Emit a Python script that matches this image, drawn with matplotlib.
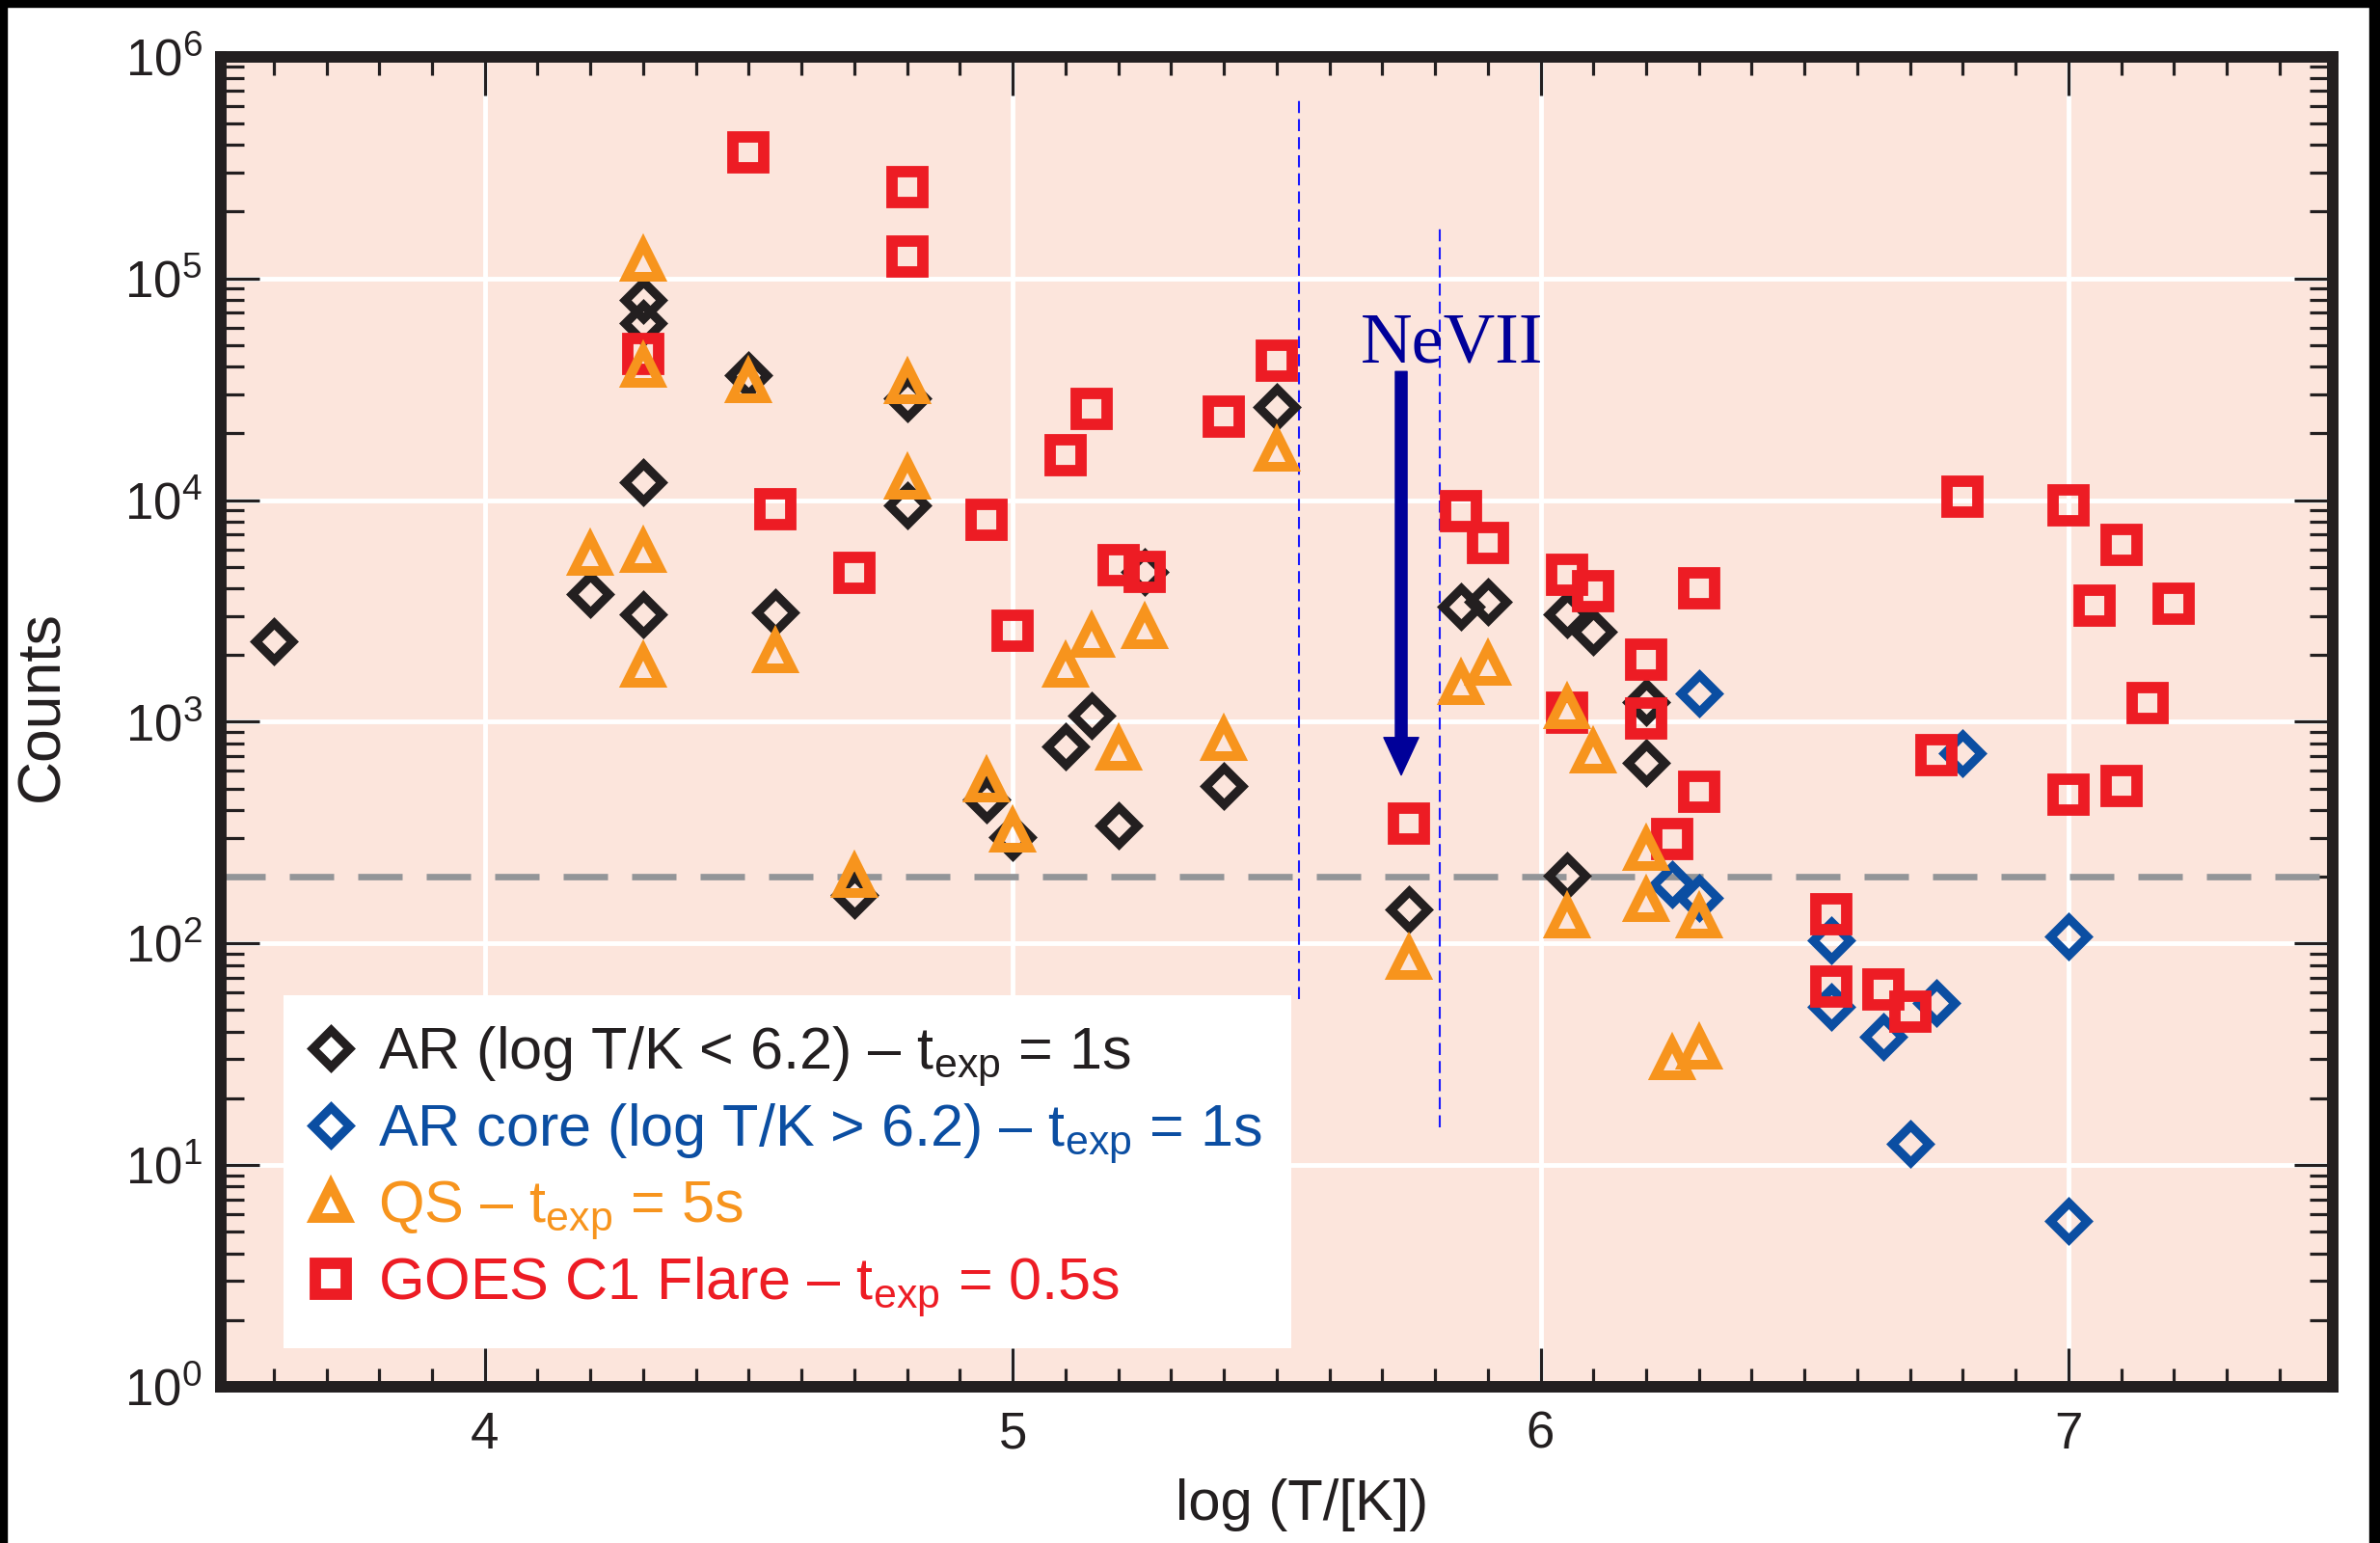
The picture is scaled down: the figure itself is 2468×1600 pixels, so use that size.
import numpy as np
import matplotlib.pyplot as plt
from matplotlib.ticker import MultipleLocator, LogLocator, NullFormatter
from matplotlib.patches import Rectangle

plt.rcParams['font.family'] = 'Liberation Sans'
plt.rcParams['mathtext.fontset'] = 'custom'
plt.rcParams['mathtext.rm'] = 'Liberation Sans'
plt.rcParams['mathtext.it'] = 'Liberation Sans:italic'
plt.rcParams['mathtext.bf'] = 'Liberation Sans:bold'

# AR (log T/K < 6.2), t_exp = 1s
ar_logt = [3.6, 4.2, 4.3, 4.3, 4.3, 4.3, 4.5, 4.55, 4.8, 4.8, 4.7, 4.95, 5.0, 5.1,
           5.15, 5.2, 5.25, 5.4, 5.5, 5.75, 5.85, 5.9, 6.05, 6.1, 6.2, 6.2, 6.05]
ar_counts = [2300, 3760, 80000, 63000, 12000, 3060, 36500, 3100, 28800, 9500, 166, 448, 301, 776,
             1065, 342, 4760, 515, 26200, 142, 3320, 3480, 3060, 2540, 1230, 653, 203]

# AR core (log T/K > 6.2), t_exp = 1s
core_logt = [6.3, 6.8, 6.25, 6.3, 6.55, 6.55, 6.65, 6.75, 6.7, 7.0, 7.0]
core_counts = [1340, 718, 185, 160, 103, 52, 38, 54, 12.5, 108, 5.6]

# QS, t_exp = 5s
qs_logt = [4.3, 4.3, 4.2, 4.3, 4.3, 4.5, 4.55, 4.8, 4.8, 4.7, 4.95, 5.0, 5.1, 5.15, 5.2,
           5.25, 5.4, 5.5, 5.75, 5.85, 5.9, 6.05, 6.1, 6.05, 6.2, 6.2, 6.3, 6.25, 6.3]
qs_counts = [121000, 40000, 5660, 5850, 1770, 34200, 2070, 33700, 12500, 200, 540, 321, 1770, 2420, 753,
             2660, 828, 16800, 85, 1480, 1820, 1150, 730, 131, 266, 156, 131, 30, 33.7]

# GOES C1 flare, t_exp = 0.5s
flare_logt = [4.5, 4.8, 4.8, 4.3, 4.55, 4.7, 4.95, 5.0, 5.1, 5.15, 5.2, 5.25, 5.4, 5.5,
              5.75, 5.85, 5.9, 6.05, 6.1, 6.05, 6.2, 6.2, 6.3, 6.3, 6.25, 6.55, 6.55, 6.65,
              6.7, 6.75, 6.8, 7.0, 7.1, 7.05, 7.2, 7.15, 7.0, 7.1]
flare_counts = [370000, 258000, 125000, 45500, 9100, 4690, 8150, 2580, 16000, 25800, 5070, 4760, 23800, 42700,
                348, 8950, 6430, 4620, 3880, 1100, 1910, 1030, 4010, 484, 297, 135, 64, 62,
                49, 706, 10400, 9500, 6300, 3330, 3410, 1220, 469, 515]

threshold = 200
nevii_x = [5.542, 5.809]
nevii_lo = [56, 14.8]
nevii_hi = [6.56e5, 1.7e5]
arrow_x = 5.736
arrow_from = 3.8e4
arrow_to = 575

black = '#231F20'
blue = '#0B4EA2'
orange = '#F7941D'
red = '#ED1C24'
navy = '#000099'

fig = plt.figure(figsize=(24.68, 16), dpi=100)
ax = fig.add_axes([0.0928, 0.10125, 0.8872, 0.862])
ax.set_facecolor('#FCE5DC')

ax.plot(ar_logt, ar_counts, 'D', ls='none', ms=19.5, mew=6.6, mfc='none', mec=black,
        label=r'AR (log T/K < 6.2) – t$_{\mathrm{exp}}$ = 1s', zorder=3)
ax.plot(core_logt, core_counts, 'D', ls='none', ms=19.5, mew=6.6, mfc='none', mec=blue,
        label=r'AR core (log T/K > 6.2) – t$_{\mathrm{exp}}$ = 1s', zorder=3)
ax.plot(qs_logt, qs_counts, '^', ls='none', ms=24, mew=7.2, mfc='none', mec=orange,
        label=r'QS – t$_{\mathrm{exp}}$ = 5s', zorder=5)
ax.plot(flare_logt, flare_counts, 's', ls='none', ms=23.5, mew=8.5, mfc='none', mec=red,
        label=r'GOES C1 Flare – t$_{\mathrm{exp}}$ = 0.5s', zorder=4)

ax.axhline(threshold, color='#939598', lw=4.8, ls=(0, (6.9, 3.75)), zorder=2)
for xv, lo, hi in zip(nevii_x, nevii_lo, nevii_hi):
    ax.plot([xv, xv], [lo, hi], color='#1A1AFF', lw=1.5, ls=(0, (6, 3)), zorder=2)

ax.annotate('', xy=(arrow_x, arrow_to), xytext=(arrow_x, arrow_from),
            arrowprops=dict(facecolor=navy, edgecolor=navy, width=8.7, headwidth=26,
                            headlength=28, shrink=0), zorder=6)
ax.text(5.659, 4.2e4, 'NeVII', family='Liberation Serif', fontsize=53.5, color=navy,
        ha='left', va='baseline', zorder=6)

ax.set_yscale('log')
ax.set_xlim(3.5, 7.5)
ax.set_ylim(1, 1e6)

ax.set_xticks([4, 5, 6, 7])
ax.xaxis.set_minor_locator(MultipleLocator(0.1))
yt = [1, 10, 100, 1e3, 1e4, 1e5, 1e6]
ax.set_yticks(yt, [r'$10^{%d}$' % i for i in range(7)])
ax.yaxis.set_minor_locator(LogLocator(base=10, subs=np.arange(2, 10), numticks=20))
ax.yaxis.set_minor_formatter(NullFormatter())

ax.grid(True, which='major', color='white', lw=3.5)
ax.set_axisbelow(True)

for s in ax.spines.values():
    s.set_linewidth(8.6)
    s.set_color(black)

ax.tick_params(which='both', direction='in', top=True, right=True, color=black,
               width=2.3, labelcolor=black)
ax.tick_params(which='major', length=29, labelsize=38)
ax.tick_params(axis='x', which='major', pad=18)
ax.tick_params(axis='y', which='major', pad=14)
ax.tick_params(axis='x', which='minor', length=14)
ax.tick_params(axis='y', which='minor', length=17)

ax.set_xlabel('log (T/[K])', fontsize=43, color=black)
ax.set_ylabel('Counts', fontsize=45, color=black)
ax.xaxis.set_label_coords(0.512, -0.069)
ax.yaxis.set_label_coords(-0.071, 0.512)

leg = ax.legend(loc='upper left', bbox_to_anchor=(0.0297, 0.2944), borderaxespad=0,
                fontsize=44, frameon=True, fancybox=False, framealpha=1,
                facecolor='white', edgecolor='none', numpoints=1,
                borderpad=0.5, labelspacing=0.22, handlelength=0.6, handletextpad=0.5)
leg.set_zorder(7)
for t, c in zip(leg.get_texts(), [black, blue, orange, red]):
    t.set_color(c)

# black frame on three sides of the picture
fig.add_artist(Rectangle((0, 0), 7 / 2468, 1, transform=fig.transFigure, color='black'))
fig.add_artist(Rectangle((1 - 11 / 2468, 0), 11 / 2468, 1, transform=fig.transFigure, color='black'))
fig.add_artist(Rectangle((0, 1 - 7 / 1600), 1, 7 / 1600, transform=fig.transFigure, color='black'))

fig.savefig('out.png', dpi=100, facecolor='white')
